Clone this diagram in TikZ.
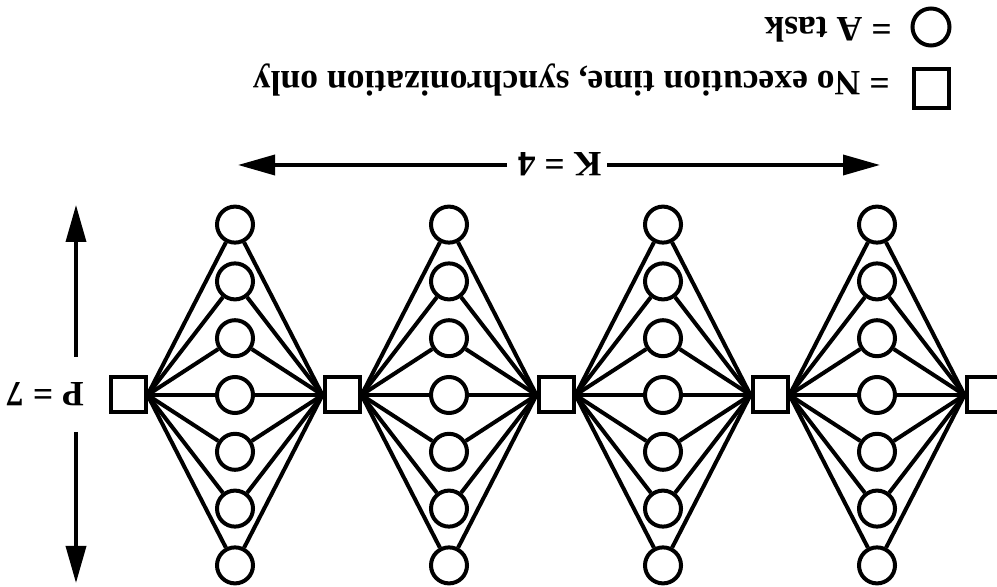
\documentclass[tikz,border=0pt]{standalone}
\usepackage{fontspec}
\setmainfont{Liberation Serif}
\usetikzlibrary{positioning, arrows.meta}

\begin{document}
\begin{tikzpicture}[x=0.5pt, y=-0.5pt, on grid,
    task/.style={circle, draw, line width=2pt, minimum size=18pt, inner sep=0pt, fill=white},
    sync/.style={rectangle, draw, line width=2pt, minimum size=17.5pt, inner sep=0pt, fill=white},
    edge/.style={line width=2pt},
    midedge/.style={line width=1.6pt},
    dimarrow/.style={-{Triangle[length=18.5pt, width=10pt]}, line width=1.8pt},
    lbl/.style={font=\bfseries\fontsize{17.8}{21}\selectfont, rotate=180, inner sep=0pt}
]
\useasboundingbox (0,0) rectangle (997,587);

% === LEGEND ===
\node[task, minimum height=18.5pt] (keytask) at (931,27) {};
\node[lbl, anchor=base west] (keytasktext) at (892,18) {= A task};
\node[sync, minimum height=19.5pt] (keysync) at (931,88.5) {};
\node[lbl, anchor=base west] (keysynctext) at (890,72) {= No execution time, synchronization only};

% === K = 4 ===
\node[lbl, anchor=base] (kk) at (559.5,153) {K = 4};
\coordinate (kl0) at (507,165);
\coordinate (kl) at (238,165);
\coordinate (kr0) at (607,165);
\coordinate (kr) at (880,165);
\draw[dimarrow] (kl0) -- (kl);
\draw[dimarrow] (kr0) -- (kr);

% === P = 7 ===
\node[lbl, anchor=base] (pp) at (45,383) {P = 7};
\coordinate (pt0) at (76,357);
\coordinate (pt) at (76,205);
\coordinate (pb0) at (76,432);
\coordinate (pb) at (76,583);
\draw[dimarrow] (pt0) -- (pt);
\draw[dimarrow] (pb0) -- (pb);

% === SYNCHRONIZATION POINTS ===
\node[sync] (sync0) at (128,395) {};
\foreach \k [evaluate=\k as \j using int(\k-1)] in {1,...,4}
    \node[sync, right=107pt of sync\j] (sync\k) {};

% === TASKS ===
\foreach \k [evaluate=\k as \j using int(\k-1)] in {1,...,4} {
    \foreach \p in {1,...,7} {
        \node[task, right=53.5pt of sync\j, yshift={(4-\p)*28.4pt}] (task\k-\p) {};
        \ifnum\p=4
            \draw[midedge] (sync\j.east) -- (task\k-\p) -- (sync\k.west);
        \else
            \draw[edge] (sync\j.east) -- (task\k-\p) -- (sync\k.west);
        \fi
    }
}

\end{tikzpicture}
\end{document}
